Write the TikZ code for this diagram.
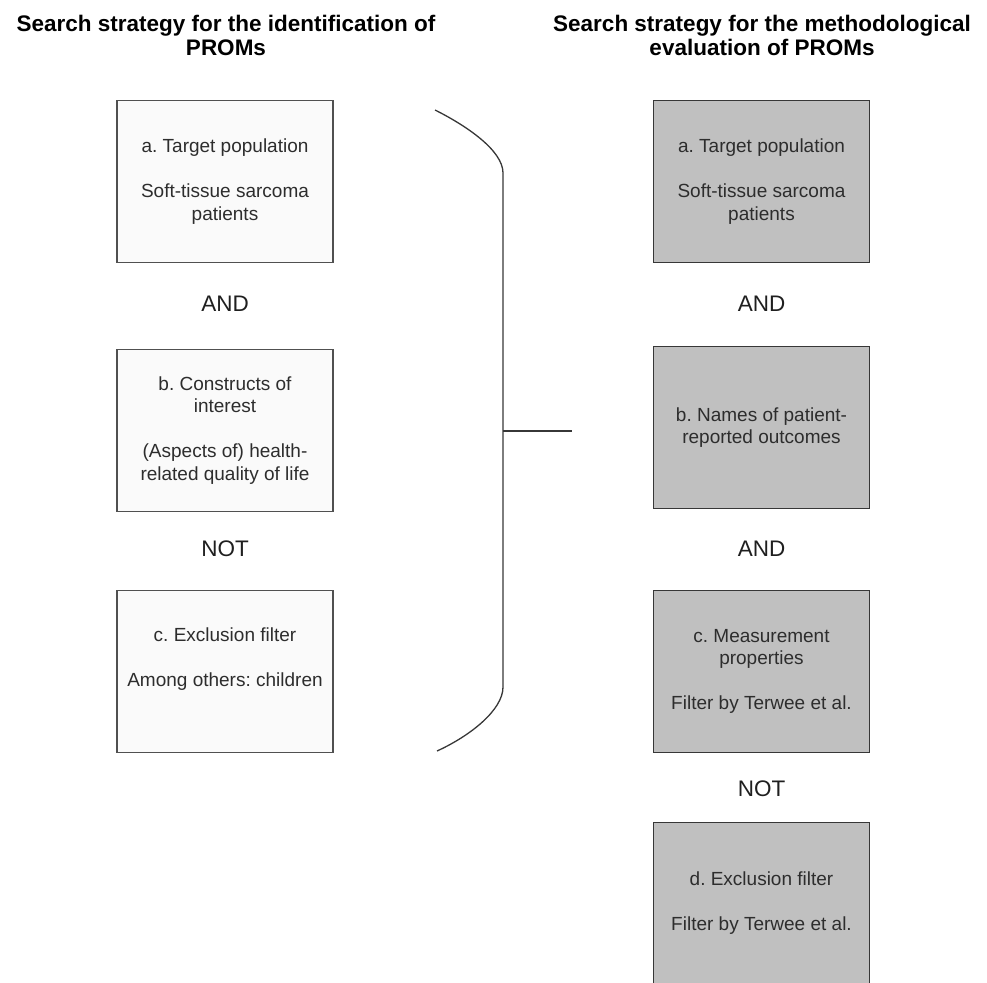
\documentclass[tikz,border=0pt]{standalone}
\usepackage{fontspec}
\setmainfont{Liberation Sans}
\usepackage{tikz}
\usetikzlibrary{positioning}
\frenchspacing
\definecolor{boxline}{RGB}{80,80,80}
\definecolor{paleface}{RGB}{250,250,250}
\definecolor{greyface}{RGB}{192,192,192}
\definecolor{bodytext}{RGB}{45,45,45}
\definecolor{bracegrey}{RGB}{55,55,55}
\tikzset{
  titletext/.style={font=\fontsize{22.5}{24.5}\selectfont\bfseries,align=center,
    inner sep=0pt,text=black},
  palebox/.style={draw=boxline,line width=1.3pt,fill=paleface,align=center,
    minimum width=216pt,minimum height=162pt,inner sep=0pt,text=bodytext,
    font=\fontsize{19}{22.5}\selectfont},
  greybox/.style={palebox,fill=greyface,draw=bracegrey},
  joinword/.style={font=\fontsize{22.5}{24}\selectfont,inner sep=0pt,text=black!88},
  bracket/.style={draw=bracegrey,line width=1.3pt}
}

\begin{document}
\begin{tikzpicture}[x=1pt,y=-1pt,on grid]
  \useasboundingbox (0,0) rectangle (987,982);
  % titles
  \node[titletext] (ltitle) at (226,35.5) {Search strategy for the identification of\\PROMs};
  \node[titletext] (rtitle) at (762,35.5) {Search strategy for the methodological\\evaluation of PROMs};
  % left column
  \node[palebox] (la) at (225,181.5) {a. Target population\\[\baselineskip]Soft-tissue sarcoma\\patients};
  \node[joinword,below=122pt of la] (land) {AND};
  \node[palebox,below=127pt of land] (lb) {b. Constructs of\\interest\\[\baselineskip](Aspects of) health-\\related quality of life};
  \node[joinword,below=118pt of lb] (lnot) {NOT};
  \node[palebox,below=123pt of lnot] (lc) {c. Exclusion filter\\[\baselineskip]Among others: children\\\strut};
  % right column
  \node[greybox] (ra) at (761.5,181.5) {a. Target population\\[\baselineskip]Soft-tissue sarcoma\\patients};
  \node[joinword,below=122pt of ra] (rand1) {AND};
  \node[greybox,below=124pt of rand1] (rb) {b. Names of patient-\\reported outcomes};
  \node[joinword,below=121pt of rb] (rand2) {AND};
  \node[greybox,below=123pt of rand2] (rc) {c. Measurement\\properties\\[\baselineskip]Filter by Terwee et al.};
  \node[joinword,below=117pt of rc] (rnot) {NOT};
  \node[greybox,below=115pt of rnot] (rd) {d. Exclusion filter\\[\baselineskip]Filter by Terwee et al.};
  % brace
  \coordinate (bracetop) at (435,110);
  \coordinate (bracebot) at (437,751);
  \coordinate (bracetip) at (572,431);
  \draw[bracket] (bracetop) .. controls (465,125) and (503,150) .. (503,173)
    -- (503,687) .. controls (503,710) and (470,736) .. (bracebot);
  \draw[bracket] (bracetip -| 503,0) -- (bracetip);
\end{tikzpicture}
\end{document}
